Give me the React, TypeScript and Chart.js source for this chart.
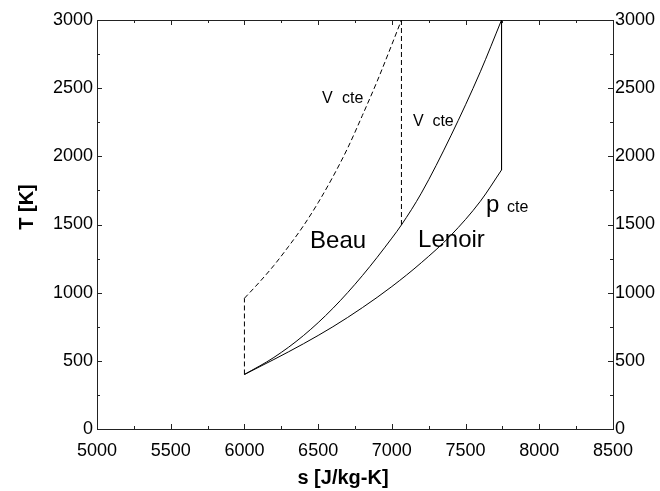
import React, { useEffect, useRef } from 'react';
import { Chart, registerables } from 'chart.js';

Chart.register(...registerables);

// Axis ranges
const sRange = [5000, 8500];
const tRange = [0, 3000];
const majorStep = 500;

// Lenoir cycle: v = cte heating (solid)
const lenoirVS = [6000, 6200, 6400, 6600, 6800, 7000, 7065, 7200, 7400, 7600, 7744];
const lenoirVT = [400, 525, 685, 885, 1125, 1400, 1497, 1730, 2150, 2620, 3000];
// Lenoir isentropic expansion
const lenoirExpS = [7744, 7744];
const lenoirExpT = [3000, 1900];
// Lenoir p = cte cooling
const lenoirPS = [6000, 6200, 6400, 6600, 6800, 7000, 7200, 7400, 7600, 7744];
const lenoirPT = [400, 510, 625, 750, 890, 1045, 1220, 1420, 1670, 1900];

// Beau de Rochas cycle (dashed)
const beauCompS = [6000, 6000];
const beauCompT = [400, 959];
const beauVS = [6000, 6100, 6200, 6300, 6400, 6500, 6600, 6700, 6800, 6900, 7000, 7065];
const beauVT = [959, 1075, 1200, 1340, 1490, 1660, 1850, 2060, 2300, 2550, 2820, 3000];
const beauExpS = [7065, 7065];
const beauExpT = [3000, 1497];

// Text annotations (data coordinates, left / baseline)
const noteText = ['V', 'cte', 'V', 'cte', 'Beau', 'Lenoir', 'p', 'cte'];
const noteS = [6526, 6662, 7144, 7275, 6445, 7178, 7639, 7781];
const noteT = [2392, 2392, 2223, 2223, 1328, 1335, 1592, 1592];
const noteSize = [16, 16, 16, 16, 24, 24, 24, 16];

const xTitle = 's [J/kg-K]';
const yTitle = 'T [K]';

const FONT = 'Arial, "Liberation Sans", sans-serif';

const pts = (xs: number[], ys: number[]) => xs.map((x, i) => ({ x, y: ys[i] }));

const line = (data: { x: number; y: number }[], dashed: boolean, curve: boolean) => ({
  data,
  showLine: true,
  pointRadius: 0,
  borderColor: '#000',
  borderWidth: 1,
  borderDash: dashed ? [5, 3] : [],
  cubicInterpolationMode: curve ? 'monotone' : 'default',
  tension: 0,
  fill: false,
});

const decoPlugin = {
  id: 'deco',
  afterDraw(chart: any) {
    const ctx = chart.ctx;
    const { left, right, top, bottom } = chart.chartArea;
    const xs = chart.scales.x;
    const ys = chart.scales.y;
    ctx.save();
    ctx.strokeStyle = '#222';
    ctx.lineWidth = 1;
    // inward ticks
    for (let v = sRange[0]; v <= sRange[1]; v += majorStep / 2) {
      const major = (v - sRange[0]) % majorStep === 0;
      const len = major ? 5 : 3;
      const px = Math.round(xs.getPixelForValue(v)) + 0.5;
      ctx.beginPath();
      ctx.moveTo(px, bottom);
      ctx.lineTo(px, bottom - len);
      ctx.moveTo(px, top);
      ctx.lineTo(px, top + len);
      ctx.stroke();
    }
    for (let v = tRange[0]; v <= tRange[1]; v += majorStep / 2) {
      const major = (v - tRange[0]) % majorStep === 0;
      const len = major ? 5 : 3;
      const py = Math.round(ys.getPixelForValue(v)) + 0.5;
      ctx.beginPath();
      ctx.moveTo(left, py);
      ctx.lineTo(left + len, py);
      ctx.moveTo(right, py);
      ctx.lineTo(right - len, py);
      ctx.stroke();
    }
    // annotations
    ctx.fillStyle = '#000';
    ctx.textAlign = 'left';
    ctx.textBaseline = 'alphabetic';
    noteText.forEach((t, i) => {
      ctx.font = `${noteSize[i]}px ${FONT}`;
      ctx.fillText(t, xs.getPixelForValue(noteS[i]), ys.getPixelForValue(noteT[i]));
    });
    // axis titles
    ctx.font = `bold 20px ${FONT}`;
    ctx.textAlign = 'center';
    ctx.textBaseline = 'middle';
    ctx.fillText(xTitle, 343, 478);
    ctx.save();
    ctx.translate(27, 207);
    ctx.rotate(-Math.PI / 2);
    ctx.fillText(yTitle, 0, 0);
    ctx.restore();
    ctx.restore();
  },
};

export default function App() {
  const ref = useRef<HTMLCanvasElement>(null);
  useEffect(() => {
    if (!ref.current) return;
    const tickFont = { family: FONT, size: 18 };
    const fmt = (v: any) => String(v);
    const chart = new Chart(ref.current, {
      type: 'scatter',
      data: {
        datasets: [
          line(pts(lenoirVS, lenoirVT), false, true),
          line(pts(lenoirExpS, lenoirExpT), false, false),
          line(pts(lenoirPS, lenoirPT), false, true),
          line(pts(beauCompS, beauCompT), true, false),
          line(pts(beauVS, beauVT), true, true),
          line(pts(beauExpS, beauExpT), true, false),
        ] as any,
      },
      options: {
        animation: false,
        responsive: false,
        devicePixelRatio: 1,
        layout: { padding: 0 },
        plugins: { legend: { display: false }, tooltip: { enabled: false } },
        scales: {
          x: {
            type: 'linear',
            position: 'bottom',
            min: sRange[0],
            max: sRange[1],
            ticks: { stepSize: majorStep, font: tickFont, color: '#000', padding: 11, maxRotation: 0, callback: fmt },
            grid: { display: false, drawTicks: false },
            border: { display: true, color: '#222', width: 1 },
            afterFit: (s: any) => { s.height = 62; },
          },
          x2: {
            type: 'linear',
            position: 'top',
            min: sRange[0],
            max: sRange[1],
            ticks: { display: false },
            grid: { display: false, drawTicks: false },
            border: { display: true, color: '#222', width: 1 },
            afterFit: (s: any) => { s.height = 20; },
          },
          y: {
            type: 'linear',
            position: 'left',
            min: tRange[0],
            max: tRange[1],
            ticks: { stepSize: majorStep, font: tickFont, color: '#000', padding: 4, callback: fmt },
            grid: { display: false, drawTicks: false },
            border: { display: true, color: '#222', width: 1 },
            afterFit: (s: any) => { s.width = 97; },
          },
          y2: {
            type: 'linear',
            position: 'right',
            min: tRange[0],
            max: tRange[1],
            ticks: { stepSize: majorStep, font: tickFont, color: '#000', padding: 2, callback: fmt },
            grid: { display: false, drawTicks: false },
            border: { display: true, color: '#222', width: 1 },
            afterFit: (s: any) => { s.width = 47; },
          },
        },
      } as any,
      plugins: [decoPlugin],
    });
    return () => chart.destroy();
  }, []);
  return (
    <div style={{ position: 'fixed', left: 0, top: 0, width: 660, height: 491, background: '#fff' }}>
      <canvas ref={ref} width={660} height={491} />
    </div>
  );
}
